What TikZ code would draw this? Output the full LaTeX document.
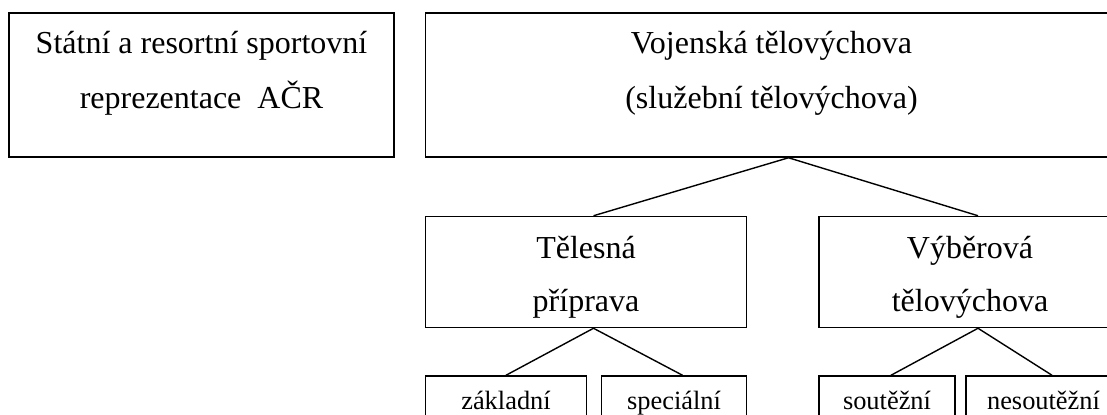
\documentclass[tikz,border=0pt]{standalone}
\usepackage{fontspec}
\setmainfont{Liberation Serif}
\usetikzlibrary{positioning}

\begin{document}
\begin{tikzpicture}[
  x = 0.5pt, y = -0.5pt,
  node distance = 29pt and 15pt,
  box/.style     = {rectangle, draw=black, line width=0.75pt, align=center,
                    inner sep=2pt, minimum width=#1},
  bigbox/.style  = {box=#1, minimum height=72pt, text height=38.5pt,
                    text depth=15.5pt, font=\fontsize{16pt}{27.5pt}\selectfont},
  midbox/.style  = {box=#1, minimum height=55.5pt, text height=42.5pt,
                    text depth=3pt, font=\fontsize{16pt}{26.5pt}\selectfont},
  leafbox/.style = {box=#1, minimum height=27pt, text height=9pt,
                    text depth=3pt, font=\fontsize{13.2pt}{16pt}\selectfont},
  link/.style    = {line width=0.7pt},
]

%% --- frame ---
\path[use as bounding box, fill=white] (0,0) rectangle (1107,414);
\clip (0,0) rectangle (1107,414);

%% --- top row ---
\node[bigbox=192.5pt] (stat) at (201.5,85)
  {Státní a resortní sportovní\\reprezentace\ \ AČR};
\node[bigbox=346pt, right=15pt of stat] (voj)
  {Vojenská tělovýchova\\(služební tělovýchova)};

%% --- middle row ---
\node[midbox=160.5pt, below=29pt of voj.south west, anchor=north west] (tel)
  {Tělesná\\příprava};
\node[midbox=151pt, right=35.5pt of tel] (vyb) {Výběrová\\tělovýchova};

%% --- leaves ---
\node[leafbox=80.5pt, below=23.5pt of tel.south west, anchor=north west] (zakl) {základní};
\node[leafbox=72.5pt, below=23.5pt of tel.south east, anchor=north east] (spec) {speciální};
\node[leafbox=68pt,   below=23.5pt of vyb.south west, anchor=north west] (sout) {soutěžní};
\node[leafbox=77.5pt, below=23.5pt of vyb.south east, anchor=north east] (nesout) {nesoutěžní};

%% --- links ---
\draw[link] ([xshift=3.75pt]tel.north) -- ([xshift=8.5pt]voj.south) -- ([xshift=4pt]vyb.north);
\draw[link] (zakl.north) -- ([xshift=3.75pt]tel.south) -- ([xshift=4.25pt]spec.north);
\draw[link] ([xshift=2pt]sout.north) -- ([xshift=4pt]vyb.south) -- ([xshift=4.25pt]nesout.north);

\end{tikzpicture}
\end{document}
